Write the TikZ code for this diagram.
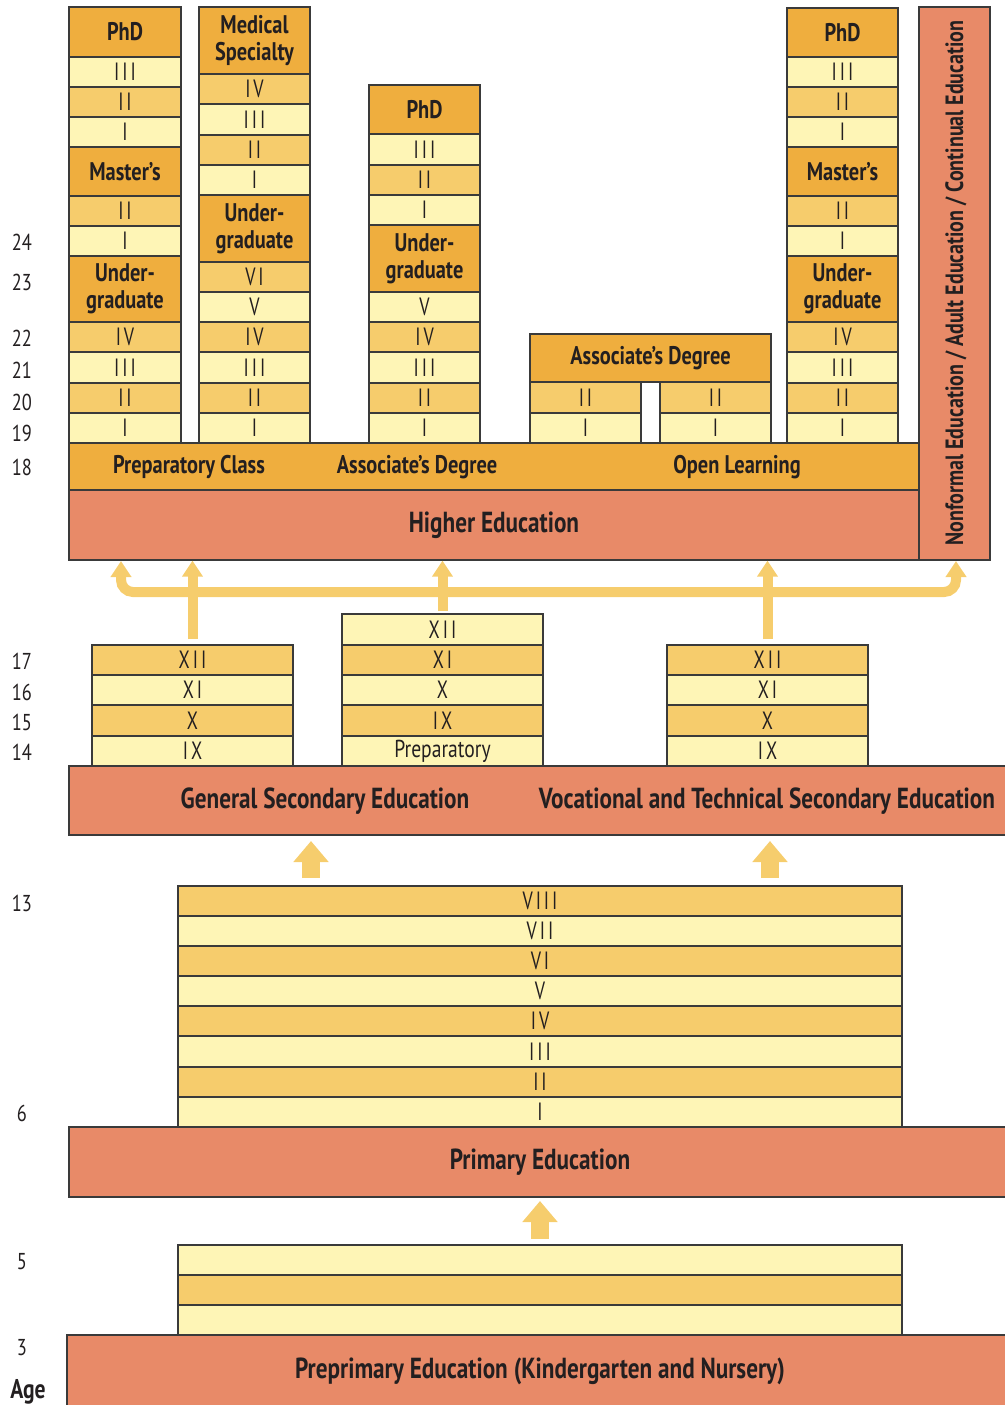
\documentclass[tikz,border=0pt]{standalone}
\usepackage{fontspec}
\setmainfont{PT Sans}[FakeStretch=0.8]
\newfontfamily\lblfont{PT Sans}[FakeStretch=0.8]
\newfontfamily\rnfont{PT Sans}[FakeStretch=0.72, LetterSpace=12]
\usetikzlibrary{arrows.meta}
\definecolor{hdrc}{HTML}{EFAE3E}
\definecolor{mdc}{HTML}{F6CC6C}
\definecolor{ltc}{HTML}{FEF5B6}
\definecolor{salc}{HTML}{E88A68}
\definecolor{arrc}{HTML}{F6CD6D}
\definecolor{bordc}{HTML}{3A3A3A}
\definecolor{txtc}{HTML}{231F20}
\newcommand\bx[7]{\node[#1, minimum width={(#5-#3)*1pt}, minimum height={(#6-#4)*1pt}] (#2) at ({(#3+#5)/2},{(#4+#6)/2}) {#7};}
\begin{document}
\begin{tikzpicture}[x=1pt,y=-1pt,
  box/.style={draw=bordc, line width=1.3pt, inner sep=0pt, align=center, text=txtc},
  hdr/.style={box, fill=hdrc, font=\lblfont\bfseries\fontsize{25.5}{27}\selectfont},
  md/.style={box, fill=mdc, font=\rnfont\fontsize{25}{26}\selectfont},
  lt/.style={box, fill=ltc, font=\rnfont\fontsize{25}{26}\selectfont},
  plainlt/.style={box, fill=ltc, font=\fontsize{24.5}{26}\selectfont},
  bar/.style={box, fill=salc, font=\lblfont\bfseries\fontsize{29}{31}\selectfont},
  lbl/.style={inner sep=0pt, text=txtc, font=\lblfont\bfseries\fontsize{25.5}{27}\selectfont},
  barlbl/.style={inner sep=0pt, text=txtc, font=\lblfont\bfseries\fontsize{29}{31}\selectfont},
  age/.style={inner sep=0pt, text=txtc, font=\fontsize{23}{25}\selectfont},
  flow/.style={draw=arrc, line width=10pt, {Triangle[width=20pt,length=16pt]}-{Triangle[width=20pt,length=16pt]}},
  upflow/.style={draw=arrc, line width=10pt, -{Triangle[width=20pt,length=16pt]}},
  bigflow/.style={draw=arrc, line width=18pt, -{Triangle[width=34pt,length=21pt]}}
]
\useasboundingbox (0,0) rectangle (1004,1405);

% ---- Column 1
\bx{hdr}{a1}{69}{7}{181}{57}{PhD}
\bx{lt}{a2}{69}{57}{181}{87}{III}
\bx{md}{a3}{69}{87}{181}{117}{II}
\bx{lt}{a4}{69}{117}{181}{147}{I}
\bx{hdr}{a5}{69}{147}{181}{196}{Master’s}
\bx{md}{a6}{69}{196}{181}{226}{II}
\bx{lt}{a7}{69}{226}{181}{256}{I}
\bx{hdr}{a8}{69}{256}{181}{322}{Under-\\graduate}
\bx{md}{a9}{69}{322}{181}{352}{IV}
\bx{lt}{a10}{69}{352}{181}{383}{III}
\bx{md}{a11}{69}{383}{181}{413}{II}
\bx{lt}{a12}{69}{413}{181}{443}{I}

% ---- Column 2
\bx{hdr}{b1}{199}{7}{310}{74}{Medical\\Specialty}
\bx{md}{b2}{199}{74}{310}{104}{IV}
\bx{lt}{b3}{199}{104}{310}{135}{III}
\bx{md}{b4}{199}{135}{310}{165}{II}
\bx{lt}{b5}{199}{165}{310}{195}{I}
\bx{hdr}{b6}{199}{195}{310}{262}{Under-\\graduate}
\bx{md}{b7}{199}{262}{310}{292}{VI}
\bx{lt}{b8}{199}{292}{310}{322}{V}
\bx{md}{b9}{199}{322}{310}{352}{IV}
\bx{lt}{b10}{199}{352}{310}{383}{III}
\bx{md}{b11}{199}{383}{310}{413}{II}
\bx{lt}{b12}{199}{413}{310}{443}{I}

% ---- Column 3
\bx{hdr}{c1}{369}{85}{480}{134}{PhD}
\bx{lt}{c2}{369}{134}{480}{165}{III}
\bx{md}{c3}{369}{165}{480}{195}{II}
\bx{lt}{c4}{369}{195}{480}{225}{I}
\bx{hdr}{c5}{369}{225}{480}{292}{Under-\\graduate}
\bx{lt}{c6}{369}{292}{480}{322}{V}
\bx{md}{c7}{369}{322}{480}{352}{IV}
\bx{lt}{c8}{369}{352}{480}{383}{III}
\bx{md}{c9}{369}{383}{480}{413}{II}
\bx{lt}{c10}{369}{413}{480}{443}{I}

% ---- Associate's degree
\bx{hdr}{d0}{530}{334}{771}{382}{Associate’s Degree}
\bx{md}{d1}{530}{382}{641}{413}{II}
\bx{lt}{d2}{530}{413}{641}{443}{I}
\bx{md}{d3}{660}{382}{771}{413}{II}
\bx{lt}{d4}{660}{413}{771}{443}{I}

% ---- Column 5
\bx{hdr}{e1}{787}{8}{898}{57}{PhD}
\bx{lt}{e2}{787}{57}{898}{87}{III}
\bx{md}{e3}{787}{87}{898}{117}{II}
\bx{lt}{e4}{787}{117}{898}{147}{I}
\bx{hdr}{e5}{787}{147}{898}{196}{Master’s}
\bx{md}{e6}{787}{196}{898}{226}{II}
\bx{lt}{e7}{787}{226}{898}{256}{I}
\bx{hdr}{e8}{787}{256}{898}{322}{Under-\\graduate}
\bx{md}{e9}{787}{322}{898}{352}{IV}
\bx{lt}{e10}{787}{352}{898}{383}{III}
\bx{md}{e11}{787}{383}{898}{413}{II}
\bx{lt}{e12}{787}{413}{898}{443}{I}

% ---- Higher education base
\bx{hdr}{prep}{69}{443}{919}{490}{}
\node[lbl] (prepA) at (189,467) {Preparatory Class};
\node[lbl] (prepB) at (417,467) {Associate’s Degree};
\node[lbl] (prepC) at (737,467) {Open Learning};
\bx{bar}{he}{69}{490}{919}{560}{Higher Education}
\bx{bar}{nf}{919}{7}{990}{560}{}
\node[barlbl, rotate=90, font=\lblfont\bfseries\fontsize{25}{27}\selectfont] (nflbl) at (956,283) {Nonformal Education / Adult Education / Continual Education};

% ---- Secondary
\bx{md}{g1}{92}{645}{293}{675}{XII}
\bx{lt}{g2}{92}{675}{293}{705}{XI}
\bx{md}{g3}{92}{705}{293}{736}{X}
\bx{lt}{g4}{92}{736}{293}{766}{IX}
\bx{lt}{m1}{342}{614}{543}{645}{XII}
\bx{md}{m2}{342}{645}{543}{675}{XI}
\bx{lt}{m3}{342}{675}{543}{705}{X}
\bx{md}{m4}{342}{705}{543}{736}{IX}
\bx{plainlt}{m5}{342}{736}{543}{766}{Preparatory}
\bx{md}{v1}{667}{645}{868}{675}{XII}
\bx{lt}{v2}{667}{675}{868}{705}{XI}
\bx{md}{v3}{667}{705}{868}{736}{X}
\bx{lt}{v4}{667}{736}{868}{766}{IX}
\bx{bar}{sec}{69}{766}{1012}{835}{}
\node[barlbl] (secA) at (325,801) {General Secondary Education};
\node[barlbl] (secB) at (767,801) {Vocational and Technical Secondary Education};

% ---- Arrows to higher education
\coordinate (hL) at (121,561);
\coordinate (hR) at (956,561);
\draw[flow, rounded corners=12pt] (hL) -- (121,592) -- (956,592) -- (hR);
\draw[upflow] ([yshift=5pt]g1.north) -- (g1.north |- he.south);
\draw[upflow] ([yshift=2pt]m1.north) -- (m1.north |- he.south);
\draw[upflow] ([yshift=5pt]v1.north) -- (v1.north |- he.south);

% ---- Primary
\bx{md}{p8}{178}{886}{902}{916}{VIII}
\bx{lt}{p7}{178}{916}{902}{946}{VII}
\bx{md}{p6}{178}{946}{902}{976}{VI}
\bx{lt}{p5}{178}{976}{902}{1006}{V}
\bx{md}{p4}{178}{1006}{902}{1036}{IV}
\bx{lt}{p3}{178}{1036}{902}{1067}{III}
\bx{md}{p2}{178}{1067}{902}{1097}{II}
\bx{lt}{p1}{178}{1097}{902}{1127}{I}
\bx{bar}{pri}{69}{1127}{1012}{1197}{}
\node[barlbl] (prilbl) at (540,1162) {Primary Education};

\coordinate (s1b) at (311,878);
\coordinate (s1t) at (311,841);
\coordinate (s2b) at (770,878);
\coordinate (s2t) at (770,841);
\draw[bigflow] (s1b) -- (s1t);
\draw[bigflow] (s2b) -- (s2t);

% ---- Preprimary
\bx{lt}{q3}{178}{1245}{902}{1275}{}
\bx{md}{q2}{178}{1275}{902}{1305}{}
\bx{lt}{q1}{178}{1305}{902}{1335}{}
\bx{bar}{pp}{67}{1335}{1012}{1415}{}
\node[barlbl] (pplbl) at (540,1371) {Preprimary Education (Kindergarten and Nursery)};
\coordinate (t1b) at (540,1239);
\coordinate (t1t) at (540,1201);
\draw[bigflow] (t1b) -- (t1t);

% ---- Ages
\node[age] (ag24) at (22,242) {24};
\node[age] (ag23) at (22,282) {23};
\node[age] (ag22) at (22,338) {22};
\node[age] (ag21) at (22,370) {21};
\node[age] (ag20) at (22,402) {20};
\node[age] (ag19) at (22,433) {19};
\node[age] (ag18) at (22,467) {18};
\node[age] (ag17) at (22,661) {17};
\node[age] (ag16) at (22,692) {16};
\node[age] (ag15) at (22,722) {15};
\node[age] (ag14) at (22,752) {14};
\node[age] (ag13) at (22,903) {13};
\node[age] (ag6) at (22,1113) {6};
\node[age] (ag5) at (22,1262) {5};
\node[age] (ag3) at (22,1348) {3};
\node[lbl, font=\lblfont\bfseries\fontsize{27}{29}\selectfont] (agelbl) at (28,1392) {Age};
\end{tikzpicture}
\end{document}
